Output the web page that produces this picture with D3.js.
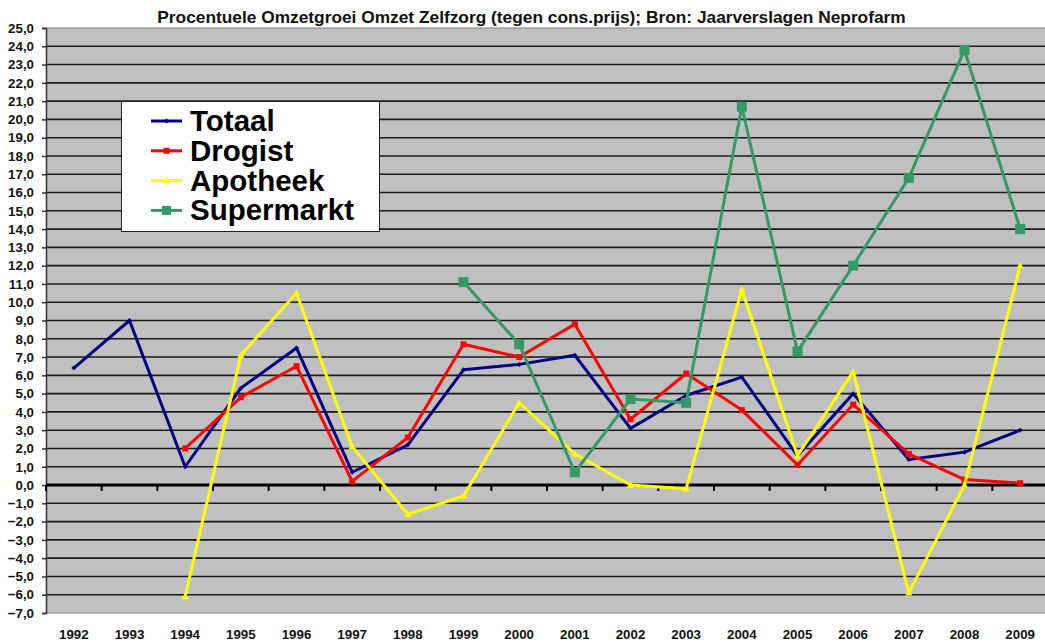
<!DOCTYPE html>
<html><head><meta charset="utf-8">
<script src="https://cdn.jsdelivr.net/npm/d3@7"></script>
<style>body{margin:0;background:#fff}svg{display:block}</style>
</head><body>
<svg id="c" width="1045" height="643"></svg>
<script>
const years = ["1992","1993","1994","1995","1996","1997","1998","1999","2000","2001","2002","2003","2004","2005","2006","2007","2008","2009"];
const totaal =     [6.4, 9.0, 1.0, 5.3, 7.5, 0.7, 2.2, 6.3, 6.6, 7.1, 3.1, 4.9, 5.9, 1.6, 5.0, 1.4, 1.8, 3.0];
const drogist =    [null, null, 2.0, 4.8, 6.5, 0.2, 2.6, 7.7, 7.0, 8.8, 3.6, 6.1, 4.1, 1.1, 4.4, 1.7, 0.3, 0.1];
const apotheek =   [null, null, -6.1, 7.1, 10.5, 2.1, -1.6, -0.6, 4.5, 1.7, 0.0, -0.2, 10.7, 1.6, 6.2, -5.9, 0.0, 12.0];
const supermarkt = [null, null, null, null, null, null, null, 11.1, 7.7, 0.7, 4.7, 4.5, 20.7, 7.3, 12.0, 16.8, 23.8, 14.0];
const seriesNames = ["Totaal","Drogist","Apotheek","Supermarkt"];
const yTicks = d3.range(-7, 26, 1);
const title = "Procentuele Omzetgroei Omzet Zelfzorg (tegen cons.prijs); Bron: Jaarverslagen Neprofarm";

const series = [
  {name: seriesNames[0], values: totaal, color: "#000080", marker: "diamond", ms: 5},
  {name: seriesNames[1], values: drogist, color: "#ff0000", marker: "square", ms: 6},
  {name: seriesNames[2], values: apotheek, color: "#ffff00", marker: "triangle", ms: 6},
  {name: seriesNames[3], values: supermarkt, color: "#339966", marker: "square", ms: 10}
];

const svg = d3.select("#c");
const L = 46, T = 28, R = 1048, B = 613;
const x = d3.scaleBand().domain(years).range([L, R]);
const y = d3.scaleLinear().domain([-7, 25]).range([B, T]);
const cx = d => x(d) + x.bandwidth()/2;

svg.append("rect").attr("x", L).attr("y", T).attr("width", R - L).attr("height", B - T).attr("fill", "#c0c0c0");
svg.append("line").attr("x1", L).attr("x2", R).attr("y1", T).attr("y2", T).attr("stroke", "#808080").attr("stroke-width", 1);
svg.append("line").attr("x1", L).attr("x2", R).attr("y1", B).attr("y2", B).attr("stroke", "#808080").attr("stroke-width", 1);

svg.append("g").selectAll("line").data(yTicks.filter(v => v !== 0 && v !== -7 && v !== 25)).join("line")
  .attr("x1", L).attr("x2", R).attr("y1", d => y(d)).attr("y2", d => y(d))
  .attr("stroke", "#1a1a1a").attr("stroke-width", 1.6);

const yAxis = d3.axisLeft(y).tickValues(yTicks).tickSize(4).tickPadding(8)
  .tickFormat(d => d3.format(".1f")(d).replace(".", ","));
const ga = svg.append("g").attr("transform", `translate(${L},0)`).call(yAxis);
ga.select(".domain").attr("stroke", "#333").attr("stroke-width", 1.5);
ga.selectAll(".tick line").attr("stroke", "#333").attr("stroke-width", 1.5);
ga.selectAll("text").attr("font-family", "Arial, 'Liberation Sans', sans-serif").attr("font-size", 13.3).attr("font-weight", "bold").attr("fill", "#111");

svg.append("line").attr("x1", L).attr("x2", R).attr("y1", y(0)).attr("y2", y(0)).attr("stroke", "#000").attr("stroke-width", 3);
const gz = svg.append("g").attr("transform", `translate(0,${y(0)})`);
gz.selectAll("line").data(years).join("line")
  .attr("x1", d => x(d)).attr("x2", d => x(d)).attr("y1", 0).attr("y2", 6)
  .attr("stroke", "#000").attr("stroke-width", 2);

const gx = svg.append("g").attr("transform", `translate(0,${B})`).call(d3.axisBottom(x).tickSize(0).tickPadding(17));
gx.select(".domain").remove();
gx.selectAll("text").attr("font-family", "Arial, 'Liberation Sans', sans-serif").attr("font-size", 13.3).attr("font-weight", "bold").attr("fill", "#111");

const line = d3.line().defined(d => d.v !== null).x(d => cx(d.yr)).y(d => y(d.v));
function markerPath(type, s) {
  if (type === "square") return `M${-s/2},${-s/2}h${s}v${s}h${-s}Z`;
  if (type === "diamond") return `M0,${-s/2}L${s/2},0L0,${s/2}L${-s/2},0Z`;
  return `M0,${-s*0.6}L${s*0.6},${s*0.45}L${-s*0.6},${s*0.45}Z`;
}
series.forEach(s => {
  const pts = years.map((yr, i) => ({yr, v: s.values[i]}));
  svg.append("path").datum(pts).attr("d", line).attr("fill", "none")
    .attr("stroke", s.color).attr("stroke-width", 3).attr("stroke-linejoin", "round");
  svg.append("g").selectAll("path").data(pts.filter(p => p.v !== null)).join("path")
    .attr("transform", p => `translate(${cx(p.yr)},${y(p.v)})`)
    .attr("d", markerPath(s.marker, s.ms)).attr("fill", s.color);
});

const lg = svg.append("g");
lg.append("rect").attr("x", 121.5).attr("y", 101.5).attr("width", 258).attr("height", 130)
  .attr("fill", "#fff").attr("stroke", "#222").attr("stroke-width", 1);
series.forEach((s, i) => {
  const ly = 121 + i * 29.8;
  lg.append("line").attr("x1", 151).attr("x2", 182).attr("y1", ly).attr("y2", ly)
    .attr("stroke", s.color).attr("stroke-width", 3);
  lg.append("path").attr("transform", `translate(166.5,${ly})`).attr("d", markerPath(s.marker, s.marker === "square" && s.ms > 8 ? 9 : s.ms)).attr("fill", s.color);
  lg.append("text").attr("x", 190).attr("y", ly + 10).text(s.name)
    .attr("font-family", "Arial, 'Liberation Sans', sans-serif").attr("font-size", 29.5).attr("font-weight", "bold").attr("fill", "#000");
});

const tt = svg.append("text").attr("x", 531.5).attr("y", 23).attr("text-anchor", "middle")
  .attr("font-family", "Arial, 'Liberation Sans', sans-serif").attr("font-weight", "bold").attr("font-size", 14).attr("fill", "#111").text(title);
const w = tt.node().getComputedTextLength();
tt.attr("font-size", 14 * 749 / w);
</script>
</body></html>
